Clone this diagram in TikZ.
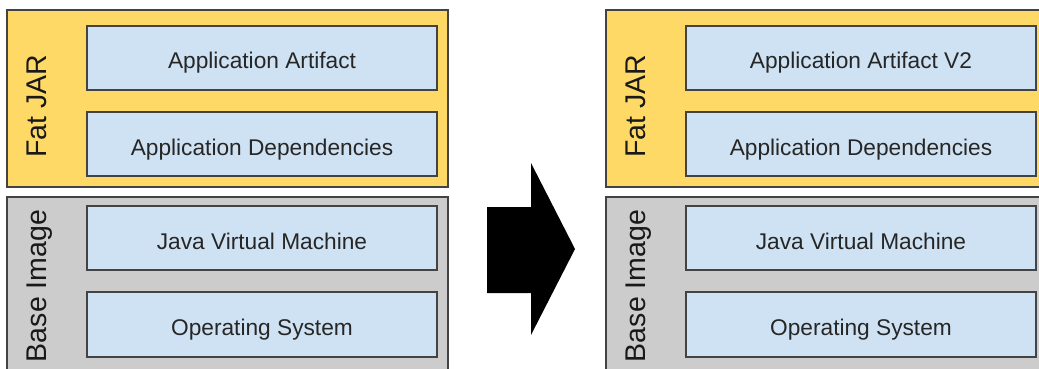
\documentclass[tikz,border=0pt]{standalone}
\usepackage{fontspec}
\setmainfont{Liberation Sans}
\definecolor{jar}{HTML}{FFD966}
\definecolor{base}{HTML}{CCCCCC}
\definecolor{part}{HTML}{CFE2F3}
\definecolor{edge}{HTML}{434343}
\tikzset{layer/.style={draw=edge,line width=1.4pt,minimum width=441pt,inner sep=0pt},
partbox/.style={draw=edge,fill=part,line width=1.4pt,minimum width=350pt,minimum height=64pt,inner sep=0pt,text height=22pt,text depth=0pt,text=black!85,font=\fontsize{22.7}{27}\selectfont},
sidelabel/.style={rotate=90,anchor=base,inner sep=0pt,text=black!90,font=\fontsize{28.5}{34}\selectfont}}

\begin{document}
\begin{tikzpicture}[x=1pt,y=-1pt,semithick]
\useasboundingbox (0,0) rectangle (1039,369);
\clip (0,0) rectangle (1039,369);
\foreach \dx/\nm/\art in {0/L/Application Artifact,599/R/Application Artifact V2}{
\begin{scope}[shift={(\dx,0)}]
\node[layer,fill=jar,minimum height=177pt] (fat\nm) at (227.5,98.5) {};
\node[layer,fill=base,minimum height=203pt] (base\nm) at (227.5,298.5) {};
\node[sidelabel] (fatlab\nm) at (46.5,106) {Fat JAR};
\node[sidelabel] (baselab\nm) at (46.5,286) {Base Image};
\node[partbox] (art\nm) at (262,58) {\art};
\node[partbox] (dep\nm) at (262,144) {Application Dependencies};
\node[partbox] (jvm\nm) at (262,238) {Java Virtual Machine};
\node[partbox,minimum height=65pt] (os\nm) at (262,324.5) {Operating System};
\end{scope}
}
\fill (487,207) -- (531,207) -- (531,163) -- (575,249) -- (531,335) -- (531,293) -- (487,293) -- cycle;
\end{tikzpicture}
\end{document}
